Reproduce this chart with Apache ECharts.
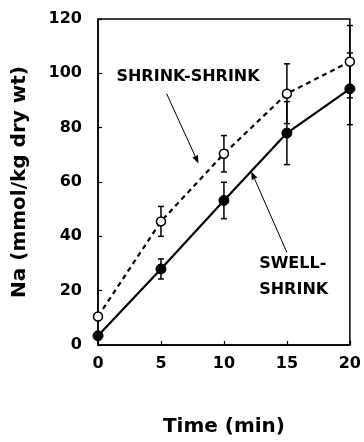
<!DOCTYPE html>
<html>
<head>
<meta charset="utf-8">
<script src="https://cdn.jsdelivr.net/npm/echarts@6/dist/echarts.min.js"></script>
<style>
html,body{margin:0;padding:0;background:#fff;}
#chart{width:364px;height:442px;}
</style>
</head>
<body>
<div id="chart"></div>
<script>
// ---- data ----
var timeMin = [0, 5, 10, 15, 20];
var shrinkShrink = [10.5, 45.5, 70.4, 92.5, 104.3];
var shrinkShrinkErr = [0, 5.5, 6.7, 11, 13.3];
var swellShrink = [3.4, 28, 53.2, 78, 94.3];
var swellShrinkErr = [0, 3.7, 6.7, 11.6, 13.2];
var yTicks = [0, 20, 40, 60, 80, 100, 120];
var xTicks = [0, 5, 10, 15, 20];
var labelShrinkShrink = 'SHRINK-SHRINK';
var labelSwellShrink = ['SWELL-', 'SHRINK'];
var xTitle = 'Time (min)';
var yTitle = 'Na (mmol/kg dry wt)';

var FONT = 'DejaVu Sans';

function pairs(xs, ys) { return xs.map(function (x, i) { return [x, ys[i]]; }); }
function errData(xs, ys, es) {
  var out = [];
  xs.forEach(function (x, i) { if (es[i] > 0) out.push([x, ys[i] - es[i], ys[i] + es[i]]); });
  return out;
}

function renderErr(params, api) {
  var x = api.value(0), lo = api.value(1), hi = api.value(2);
  var pHi = api.coord([x, hi]), pLo = api.coord([x, lo]);
  var cw = 3;
  var st = { stroke: '#000', lineWidth: 1.5 };
  return {
    type: 'group',
    children: [
      { type: 'line', shape: { x1: pHi[0], y1: pHi[1], x2: pLo[0], y2: pLo[1] }, style: st },
      { type: 'line', shape: { x1: pHi[0] - cw, y1: pHi[1], x2: pHi[0] + cw, y2: pHi[1] }, style: st },
      { type: 'line', shape: { x1: pLo[0] - cw, y1: pLo[1], x2: pLo[0] + cw, y2: pLo[1] }, style: st }
    ]
  };
}

var chart = echarts.init(document.getElementById('chart'), null, { renderer: 'canvas' });

chart.setOption({
  animation: false,
  backgroundColor: '#fff',
  grid: { left: 98, right: 13, top: 19, bottom: 96, show: true, borderColor: '#000', borderWidth: 1.5, backgroundColor: 'transparent' },
  xAxis: {
    type: 'value', min: xTicks[0], max: xTicks[xTicks.length - 1], interval: 5,
    name: xTitle, nameLocation: 'middle', nameGap: 72,
    nameTextStyle: { fontFamily: FONT, fontWeight: 'bold', fontSize: 20, color: '#000' },
    axisLine: { lineStyle: { color: '#000', width: 1.5 } },
    axisTick: { inside: true, length: 4, lineStyle: { color: '#000', width: 1.2 } },
    axisLabel: { margin: 11, fontFamily: FONT, fontWeight: 'bold', fontSize: 16, color: '#000' },
    splitLine: { show: false }
  },
  yAxis: {
    type: 'value', min: yTicks[0], max: yTicks[yTicks.length - 1], interval: 20,
    name: yTitle, nameLocation: 'middle', nameGap: 68, nameRotate: 90,
    nameTextStyle: { fontFamily: FONT, fontWeight: 'bold', fontSize: 20, color: '#000' },
    axisLine: { show: true, lineStyle: { color: '#000', width: 1.5 } },
    axisTick: { show: true, inside: true, length: 4, lineStyle: { color: '#000', width: 1.2 } },
    axisLabel: { margin: 16, fontFamily: FONT, fontWeight: 'bold', fontSize: 16, color: '#000' },
    splitLine: { show: false }
  },
  series: [
    { type: 'custom', name: 'errSS', renderItem: renderErr, data: errData(timeMin, shrinkShrink, shrinkShrinkErr), z: 1, silent: true },
    { type: 'custom', name: 'errSw', renderItem: renderErr, data: errData(timeMin, swellShrink, swellShrinkErr), z: 1, silent: true },
    {
      type: 'line', name: 'SHRINK-SHRINK', data: pairs(timeMin, shrinkShrink), z: 3,
      symbol: 'circle', symbolSize: 9, showAllSymbol: true,
      lineStyle: { color: '#000', width: 2.2, type: [5, 4] },
      itemStyle: { color: '#fff', borderColor: '#000', borderWidth: 1.5 }
    },
    {
      type: 'line', name: 'SWELL-SHRINK', data: pairs(timeMin, swellShrink), z: 3,
      symbol: 'circle', symbolSize: 10, showAllSymbol: true,
      lineStyle: { color: '#000', width: 2.2 },
      itemStyle: { color: '#000', borderColor: '#000', borderWidth: 1 }
    }
  ]
});

// annotations placed in data space
function arrow(from, to) {
  var a = chart.convertToPixel({ gridIndex: 0 }, from);
  var b = chart.convertToPixel({ gridIndex: 0 }, to);
  var dx = b[0] - a[0], dy = b[1] - a[1];
  var len = Math.sqrt(dx * dx + dy * dy);
  var ux = dx / len, uy = dy / len;
  var hl = 8, hw = 3;
  var bx = b[0] - ux * hl, by = b[1] - uy * hl;
  return [
    { type: 'line', shape: { x1: a[0], y1: a[1], x2: bx, y2: by }, style: { stroke: '#000', lineWidth: 1 }, z: 10 },
    { type: 'polygon', shape: { points: [[b[0], b[1]], [bx - uy * hw, by + ux * hw], [bx + uy * hw, by - ux * hw]] }, style: { fill: '#000' }, z: 10 }
  ];
}
function label(text, at, align) {
  var p = chart.convertToPixel({ gridIndex: 0 }, at);
  return { type: 'text', x: p[0], y: p[1], z: 10,
    style: { text: text, fontFamily: FONT, fontWeight: 'bold', fontSize: 16, fill: '#000', align: align, verticalAlign: 'middle' } };
}

var g = [];
g.push(label(labelShrinkShrink, [7.15, 98.7], 'center'));
g = g.concat(arrow([5.45, 92.5], [7.98, 66.8]));
g.push(label(labelSwellShrink[0], [12.8, 29.7], 'left'));
g.push(label(labelSwellShrink[1], [12.8, 20.2], 'left'));
g = g.concat(arrow([15.0, 34.1], [12.17, 63.9]));
chart.setOption({ graphic: { elements: g } });
</script>
</body>
</html>
